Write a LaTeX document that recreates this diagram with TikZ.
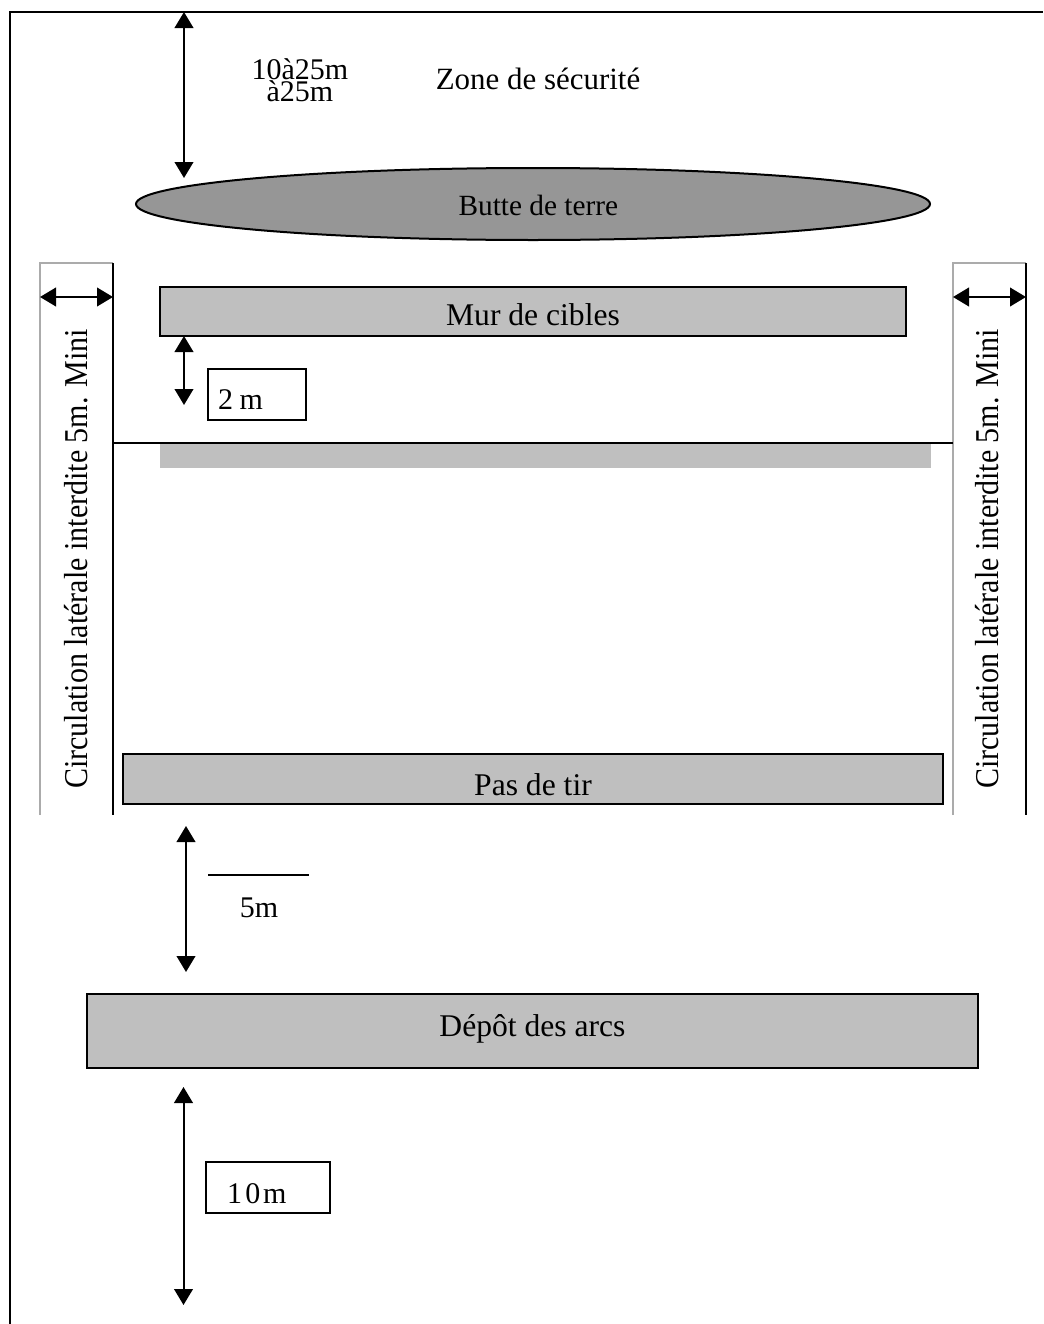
\documentclass[tikz,border=0pt]{standalone}
\usepackage[rgb]{xcolor}
\usepackage{fontspec}
\setmainfont{Liberation Serif}
\usetikzlibrary{arrows.meta, shapes.geometric}
\definecolor{terre}{gray}{0.59}
\definecolor{cible}{gray}{0.75}
\definecolor{couloir}{gray}{0.67}

\begin{document}
\begin{tikzpicture}[
        x=0.75pt, y=-0.75pt,
        every node/.style={font=\fontsize{22.5}{16.5}\selectfont},
        grand/.style={font=\fontsize{23.7}{28}\selectfont},
        zone/.style={draw, fill=cible, line width=1.5pt, inner sep=0pt, text depth=0pt},
        cote/.style={>={Triangle[length=12pt, width=14pt]}, <->, line width=1.5pt},
        dim/.style={draw, line width=1.2pt, align=left, text depth=0pt, inner ysep=0pt, minimum height=38.25pt},
        mince/.style={line width=1.5pt}
    ]
        \useasboundingbox (0,0) rectangle (1043,1324);
        \coordinate (F0) at (10,1324);
        \coordinate (F1) at (10,12);
        \coordinate (F2) at (1043,12);
        \draw[mince] (F0) -- (F1) -- (F2);

        \node[zone, ellipse, fill=terre, font=\fontsize{22}{26}\selectfont, minimum width=595.5pt, minimum height=54pt, text height=16.5pt] (butte) at (533,204) {\hspace{8pt}Butte de terre};
        \node[zone, grand, minimum width=559.5pt, minimum height=36.75pt, text height=20.25pt] (mur) at (533,311.5) {Mur de cibles};
        \node[zone, grand, minimum width=615pt, minimum height=37.5pt, text height=24pt] (pas) at (533,779) {Pas de tir};
        \node[zone, grand, minimum width=668.25pt, minimum height=55.5pt, text height=7.5pt] (depot) at (532.5,1031) {Dépôt des arcs};
        \node[fill=cible, inner sep=0pt, minimum width=578.25pt, minimum height=18pt] (bande) at (545.5,456) {};

        \foreach \curr/\gx/\kx/\tx in {
                G/40/113/87,
                D/953/1026/998
                } {
            \coordinate (\curr0) at (\gx,815);
            \coordinate (\curr1) at (\gx,263);
            \coordinate (\curr2) at (\kx,263);
            \coordinate (\curr3) at (\kx,815);
            \coordinate (\curr4) at (\gx,297);
            \coordinate (\curr5) at (\kx,297);
            \draw[couloir, line width=1.1pt] (\curr0) -- (\curr1) -- (\curr2);
            \draw[mince] (\curr2) -- (\curr3);
            \draw[cote] (\curr4) -- (\curr5);
            \node[rotate=90, xscale=0.9, anchor=base, font=\fontsize{25}{28}\selectfont] (T\curr) at (\tx,559) {Circulation latérale interdite 5m. Mini};
        }
        \coordinate (P0) at (113,443);
        \coordinate (P1) at (953,443);
        \draw[mince] (P0) -- (P1);

        \foreach \curr/\x/\from/\to in {
                A/184/12/178,
                B/184/336/405,
                C/186/826/972,
                E/183.5/1087/1305
                } {
            \coordinate (\curr0) at (\x,\from);
            \coordinate (\curr1) at (\x,\to);
            \draw[cote] (\curr0) -- (\curr1);
        }

        \node[align=center, anchor=base] (dist) at (300,101) {10à25m\\à25m};
        \node[anchor=base, font=\fontsize{23.2}{28}\selectfont] (secu) at (538,89) {Zone de sécurité};
        \node[dim, inner xsep=7.5pt, text width=58.5pt, text height=21.75pt] (deux) at (257,394.5) {\spaceskip=4.9pt 2 m};
        \node[dim, inner xsep=15.75pt, text width=61.5pt, text height=23.25pt] (dix) at (268,1187.5) {1\hspace{2.5pt}0\hspace{2pt}m};
        \node[anchor=base] (cinq) at (259,917) {5m};
        \coordinate (L0) at (208,875);
        \coordinate (L1) at (309,875);
        \draw[mince] (L0) -- (L1);
    \end{tikzpicture}
\end{document}
